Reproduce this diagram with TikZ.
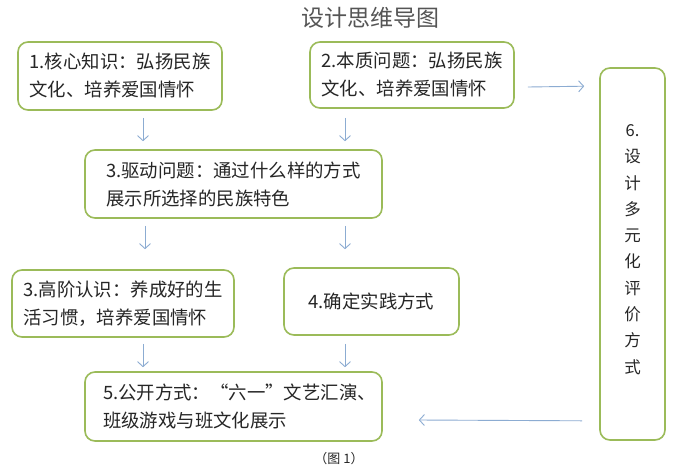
\documentclass[tikz,border=0pt]{standalone}
\usepackage{fontspec}
\setmainfont{Noto Sans CJK SC}
\usetikzlibrary{arrows.meta,calc}
\definecolor{bgreen}{RGB}{155,187,89}
\definecolor{ablue}{RGB}{140,172,210}
\definecolor{tgray}{RGB}{85,85,85}
\begin{document}
\begin{tikzpicture}[x=1pt,y=-1pt,
  box/.style={draw=bgreen,line width=1.6pt,rounded corners=10pt,align=left,
    font=\fontsize{18.4}{28}\selectfont,inner sep=0pt,text=black!85},
  vbox/.style={box,align=center,font=\fontsize{16.5}{26.3}\selectfont},
  arr/.style={draw=ablue,line width=0.9pt,-{Straight Barb[length=5pt,width=11pt]}}]
\useasboundingbox (0,0) rectangle (676,469);
\fill[white] (0,0) rectangle (676,469);

\node[text=tgray,font=\fontsize{23}{25}\selectfont] (title) at (370,18) {设计思维导图};

\node[box,minimum width=204pt,minimum height=68pt] (b1) at (120,76)
  {1.核心知识：弘扬民族\\文化、培养爱国情怀};
\node[box,minimum width=204pt,minimum height=66pt] (b2) at (412,75)
  {2.本质问题：弘扬民族\\文化、培养爱国情怀};
\node[box,minimum width=297pt,minimum height=68pt] (b3) at (233.5,184)
  {3.驱动问题：通过什么样的方式\\展示所选择的民族特色};
\node[box,minimum width=222pt,minimum height=67pt] (b3b) at (123,303.5)
  {3.高阶认识：养成好的生\\活习惯，培养爱国情怀};
\node[box,minimum width=175pt,minimum height=67pt] (b4) at (371.5,301.5)
  {4.确定实践方式};
\node[box,minimum width=297pt,minimum height=69pt] (b5) at (233.5,406.5)
  {\hspace{12pt}5.公开方式：“六一”文艺汇演、\\\hspace{12pt}班级游戏与班文化展示};
\node[vbox,minimum width=65pt,minimum height=372pt] (b6) at (632.5,254)
  {6.\\设\\计\\多\\元\\化\\评\\价\\方\\式\\[-16pt]\rule{0pt}{1pt}};

\node[font=\fontsize{13}{15}\selectfont,text=black!85] (cap) at (339,459) {（图 1）};

\draw[arr] ($(b1.south)+(23,7)$) -- ($(b3.north)+(-90.5,-8)$);
\draw[arr] ($(b2.south)+(-67,9)$) -- ($(b3.north)+(111.5,-8)$);
\draw[arr] ($(b3.south)+(-88.5,7)$) -- ($(b3b.north)+(22,-20)$);
\draw[arr] ($(b3.south)+(111.5,7)$) -- ($(b4.north)+(-26.5,-18)$);
\draw[arr] ($(b3b.south)+(20,6)$) -- ($(b5.north)+(-90.5,-4)$);
\draw[arr] ($(b4.south)+(-26.5,8)$) -- ($(b5.north)+(111.5,-4)$);
\draw[arr] ($(b2.east)+(13,12)$) -- ($(b6.north west)+(-15,19)$);
\draw[arr] ($(b6.south west)+(-17,-20)$) -- ($(b5.east)+(36,13.5)$);
\end{tikzpicture}
\end{document}
